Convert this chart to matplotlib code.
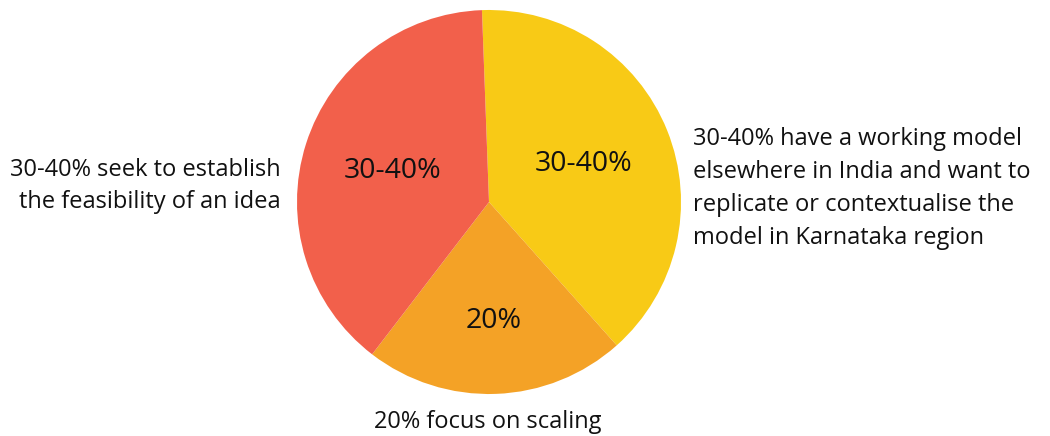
import matplotlib.pyplot as plt
import numpy as np

# shares (clockwise from the top)
shares = [39, 22, 39]
inner_labels = ['30-40%', '20%', '30-40%']
colors = ['#F8CA16', '#F4A226', '#F2604B']
label_r = [0.53, 0.62, 0.53]

left_text = '30-40% seek to establish\nthe feasibility of an idea'
right_text = ('30-40% have a working model\nelsewhere in India and want to\n'
              'replicate or contextualise the\nmodel in Karnataka region')
bottom_text = '20% focus on scaling'

plt.rcParams['font.family'] = ['Open Sans', 'DejaVu Sans']

fig = plt.figure(figsize=(10.5, 4.36), dpi=100)
ax = fig.add_axes([297 / 1050, 42 / 436, 384 / 1050, 384 / 436])
wedges, _ = ax.pie(shares, colors=colors, startangle=92.1, counterclock=False,
                   radius=1, wedgeprops=dict(linewidth=0))
ax.set_xlim(-1, 1)
ax.set_ylim(-1, 1)
ax.set_aspect('equal')
ax.axis('off')

for w, lab, r in zip(wedges, inner_labels, label_r):
    mid = np.deg2rad((w.theta1 + w.theta2) / 2)
    ax.text(r * np.cos(mid), r * np.sin(mid), lab, ha='center', va='center',
            fontsize=20.5, color='#111111')

fig.text(281 / 1050, 1 - 186 / 436, left_text, ha='right', va='center',
         fontsize=17, color='#111111', linespacing=1.4)
fig.text(693 / 1050, 1 - 188 / 436, right_text, ha='left', va='center',
         fontsize=17, color='#111111', linespacing=1.5)
fig.text(488 / 1050, 1 - 422 / 436, bottom_text, ha='center', va='center',
         fontsize=17, color='#111111')

fig.savefig('out.png', dpi=100)
